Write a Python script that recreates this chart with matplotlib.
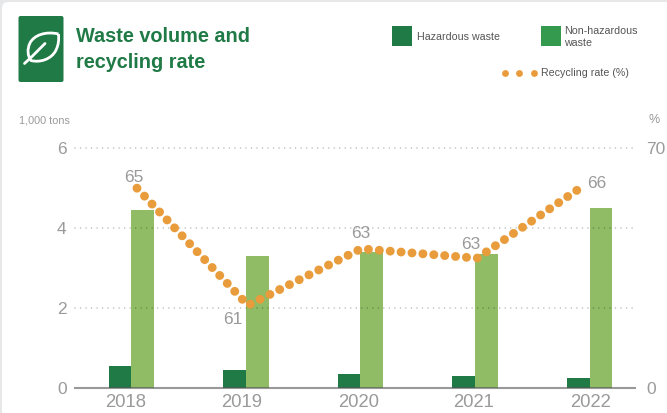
from matplotlib import pyplot as plt
from matplotlib.patches import FancyBboxPatch, PathPatch, Rectangle
from matplotlib.path import Path
import numpy as np

plt.rcParams['font.family'] = ['Liberation Sans', 'DejaVu Sans']

years = ['2018', '2019', '2020', '2021', '2022']
hazardous = [0.53, 0.43, 0.33, 0.28, 0.25]
non_hazardous = [4.43, 3.30, 3.40, 3.35, 4.48]
recycling_rate = [65.45, 61.1, 63.2, 62.85, 65.5]

GREEN = '#1f7a46'
LEGEND_GREEN = '#339a4e'
LIGHT_GREEN = '#8fbc64'
ORANGE = '#e99c3c'
GREY = '#9a9a9a'
FONTSIZE_TICKS = 12.5
W, H = 667, 414

fig = plt.figure(figsize=(W / 100, H / 100), dpi=100, facecolor='#e6e7e9')

# white card plus everything that sits outside the plot, in pixel coordinates
card = fig.add_axes([0, 0, 1, 1], zorder=0)
card.set_xlim(0, W)
card.set_ylim(H, 0)
card.axis('off')
card.add_patch(FancyBboxPatch((2, 3), W + 40, H + 40, boxstyle='round,pad=0,rounding_size=6',
                              fc='white', ec='none'))

# leaf icon
card.add_patch(FancyBboxPatch((18.5, 17), 45, 66, boxstyle='round,pad=0,rounding_size=2', fc=GREEN, ec='none'))
leaf = Path([(58.5, 35), (46, 32), (34, 36), (30, 44), (27, 50), (27.5, 57), (31, 61.5),
             (40, 64), (52, 60), (56, 51), (58.5, 46), (59, 41), (58.5, 35)],
            [Path.MOVETO, Path.CURVE4, Path.CURVE4, Path.CURVE4, Path.CURVE4, Path.CURVE4, Path.CURVE4,
             Path.CURVE4, Path.CURVE4, Path.CURVE4, Path.CURVE4, Path.CURVE4, Path.CURVE4])
card.add_patch(PathPatch(leaf, fc='none', ec='white', lw=2))
card.plot([24.5, 32, 45], [64.5, 57.5, 44.5], color='white', lw=2, solid_capstyle='round')

card.text(76, 36.5, 'Waste volume and', color=GREEN, fontsize=14.3, fontweight='bold', va='center')
card.text(76, 62, 'recycling rate', color=GREEN, fontsize=14.3, fontweight='bold', va='center')

# legend
card.add_patch(Rectangle((392, 27), 20, 20, fc=GREEN, ec='none'))
card.text(417, 36.5, 'Hazardous waste', color='#555555', fontsize=7.65, va='center')
card.add_patch(Rectangle((541, 27), 20, 20, fc=LEGEND_GREEN, ec='none'))
card.text(564, 30.5, 'Non-hazardous', color='#555555', fontsize=7.65, va='center')
card.text(564, 43.5, 'waste', color='#555555', fontsize=7.65, va='center')
card.plot([504.5, 518.5, 533.5], [74, 74, 74], 'o', color=ORANGE, ms=4.9, mew=0)
card.text(541, 73.5, 'Recycling rate (%)', color='#555555', fontsize=7.65, va='center')

card.text(19, 121, '1,000 tons', color=GREY, fontsize=7.8, va='center')
card.text(654.5, 120.5, '%', color=GREY, fontsize=9, va='center', ha='center')

# bars on the left axis
ax = fig.add_axes([75 / W, 1 - 388.5 / H, 560 / W, 240 / H], zorder=1)
ax.patch.set_alpha(0)
x = np.arange(len(years))
ax.bar(x - 0.1, hazardous, 0.2, color=GREEN, zorder=2)
ax.bar(x + 0.1, non_hazardous, 0.2, color=LIGHT_GREEN, zorder=2)
ax.set_xlim(-0.493, 4.397)
ax.set_ylim(0, 6)

for level in [2, 4, 6]:
    ax.axhline(level, color='black', alpha=0.3, lw=1.1, linestyle=(0, (0.01, 3.6)), dash_capstyle='round',
               zorder=3, clip_on=False)
ax.axhline(0, color='#555555', alpha=0.6, lw=1.5, zorder=3, clip_on=False)

for side in ax.spines:
    ax.spines[side].set_visible(False)
ax.set_xticks(x + np.array([-0.055, -0.035, -0.02, -0.01, 0.01]))
ax.set_xticklabels(years, fontsize=13.3, color=GREY)
ax.set_yticks([0, 2, 4, 6])
ax.tick_params(axis='x', length=0, pad=4)
ax.tick_params(axis='y', length=0, pad=6, labelsize=FONTSIZE_TICKS, labelcolor=GREY)

# right axis only resolves the band the rate moves in, 0 and 70 sit at the ends
rate_band = [0, 58.06, 66.95, 70]
rate_pos = [0, 0.001, 0.999, 1]


def rate_forward(v):
    return np.interp(v, rate_band, rate_pos)


def rate_inverse(p):
    return np.interp(p, rate_pos, rate_band)


ax2 = ax.twinx()
ax2.set_zorder(2)
ax2.set_yscale('function', functions=(rate_forward, rate_inverse))
ax2.set_ylim(0, 70)
ax2.set_yticks([0, 70])
ax2.minorticks_off()
ax2.tick_params(axis='y', length=0, pad=8, labelsize=FONTSIZE_TICKS, labelcolor=GREY)
for side in ax2.spines:
    ax2.spines[side].set_visible(False)

line_x = x + np.array([0.048, 0.018, 0.005, 0.018, -0.066])
ax2.plot(line_x, recycling_rate, color=ORANGE, lw=6.4, linestyle=(0, (0.01, 1.22)),
         dash_capstyle='round', zorder=4)

label_offsets = [(-3, 12), (-15, -13), (0, 16), (-6, 15), (15, 4)]
for px, rate, off in zip(line_x, recycling_rate, label_offsets):
    ax2.annotate(f'{round(rate)}', (px, rate), xytext=off, textcoords='offset pixels',
                 ha='center', va='center', fontsize=FONTSIZE_TICKS, color=GREY)

fig.savefig('out.png', dpi=100, facecolor=fig.get_facecolor())
